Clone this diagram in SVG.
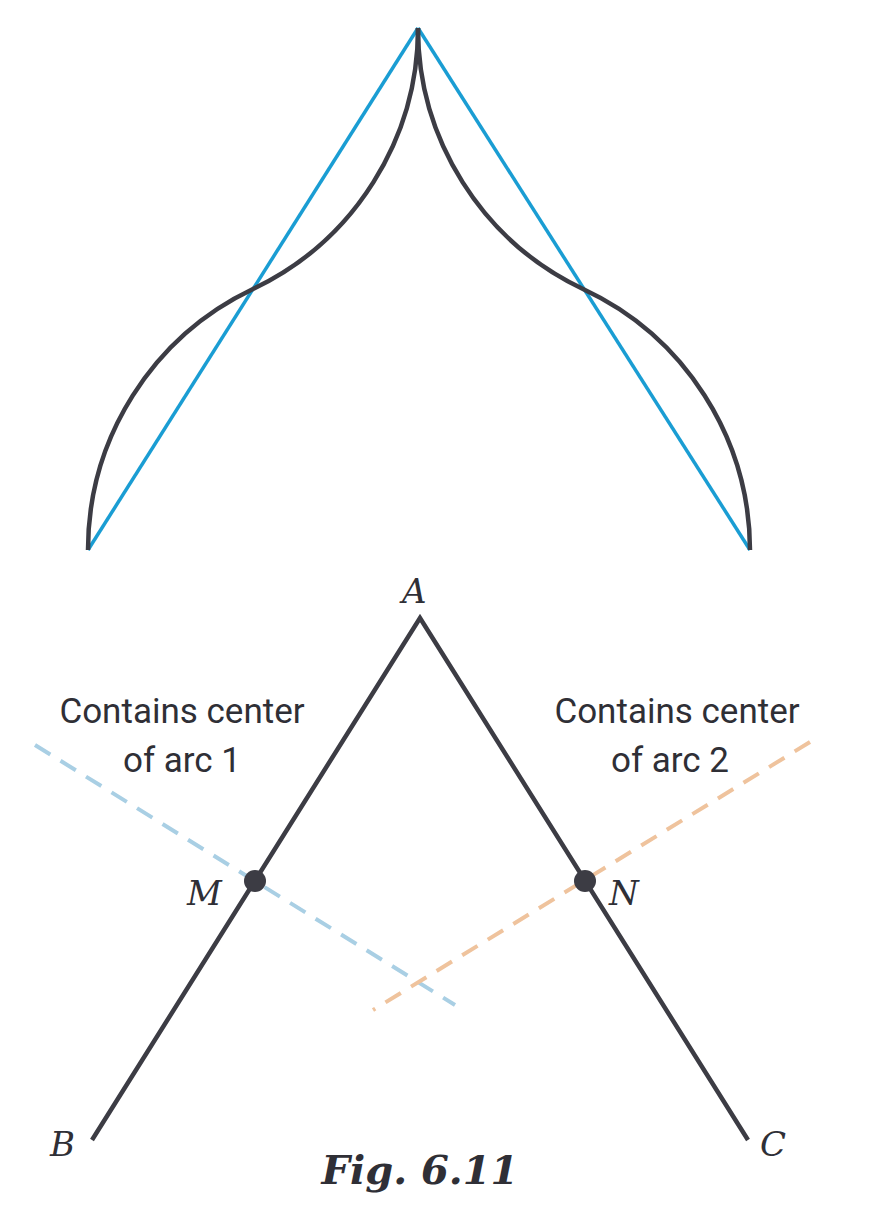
<svg xmlns="http://www.w3.org/2000/svg" width="880" height="1216" viewBox="0 0 880 1216">
<style>
.blue{stroke:#1a9dd3;stroke-width:3.5;fill:none}
.dark{stroke:#3c3c44;stroke-width:4.5;fill:none}
.dash1{stroke:#a9cfe4;stroke-width:4;stroke-dasharray:18 12;fill:none}
.dash2{stroke:#efc39d;stroke-width:4;stroke-dasharray:18 12;fill:none}
.lab{font-family:"DejaVu Serif","Liberation Serif",serif;font-style:italic;font-size:34px;fill:#2f2f36}
.txt{font-family:Roboto,"Liberation Sans",sans-serif;font-size:35px;fill:#2f2f36;text-anchor:middle}
</style>
<g id="top">
<line class="blue" x1="418" y1="28" x2="88" y2="550"/>
<line class="blue" x1="418" y1="28" x2="750" y2="550"/>
<path class="dark" d="M418,28 A289,289 0 0 1 253,289 A289,289 0 0 0 88,550"/>
<path class="dark" d="M418,28 A289,289 0 0 0 583,289 A289,289 0 0 1 750,550"/>
</g>
<g id="connectors">
<line class="dash1" x1="35" y1="745" x2="455" y2="1005"/>
<line class="dash2" x1="810" y1="742" x2="373" y2="1010"/>
<polyline class="dark" points="92,1140 420,618 748,1140"/>
</g>
<g id="M"><circle cx="255" cy="881" r="11" fill="#3c3c44"/><text class="lab" x="187" y="905">M</text></g>
<g id="N"><circle cx="585" cy="881" r="11" fill="#3c3c44"/><text class="lab" x="609" y="905">N</text></g>
<g id="A"><text class="lab" x="402" y="603">A</text></g>
<g id="B"><text class="lab" x="50" y="1156">B</text></g>
<g id="C"><text class="lab" x="760" y="1156">C</text></g>
<g id="label1"><text class="txt" x="182" y="723">Contains center</text><text class="txt" x="182" y="772">of arc 1</text></g>
<g id="label2"><text class="txt" x="677" y="723">Contains center</text><text class="txt" x="670" y="772">of arc 2</text></g>
<text x="420" y="1184" font-family="DejaVu Serif,Liberation Serif,serif" font-style="italic" font-weight="bold" font-size="40" fill="#2f2f36" text-anchor="middle">Fig. 6.11</text>
</svg>
